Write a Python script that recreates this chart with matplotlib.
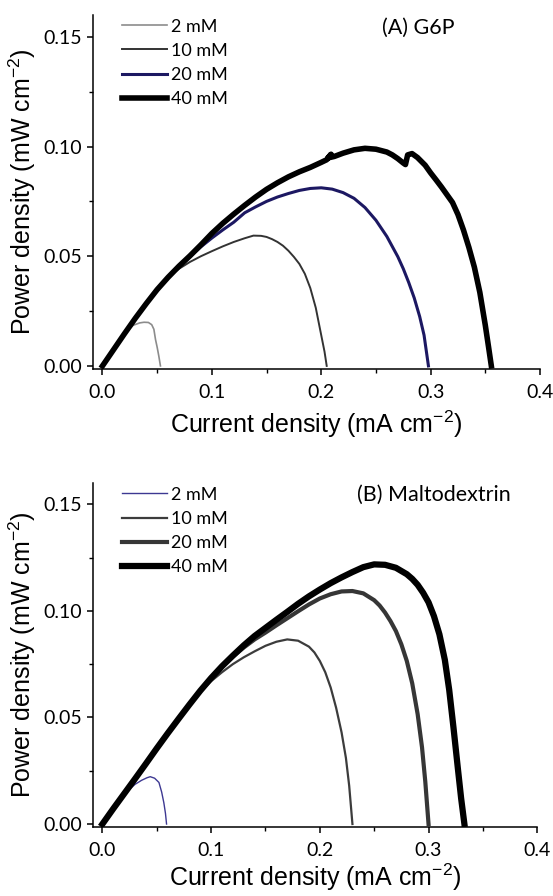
import matplotlib
matplotlib.use("Agg")
import matplotlib.pyplot as plt
from matplotlib.ticker import MultipleLocator, FormatStrFormatter

# ---- (A) G6P ----
g6p_2_x = [0, 0.01, 0.02, 0.028, 0.034, 0.038, 0.042, 0.045, 0.047, 0.0485, 0.050, 0.0515, 0.053]
g6p_2_y = [0, 0.0073, 0.0146, 0.0185, 0.0196, 0.0199, 0.0198, 0.0188, 0.0167, 0.0120, 0.0085, 0.0045, 0]

g6p_10_x = [0, 0.01, 0.02, 0.03, 0.04, 0.05, 0.06, 0.065, 0.07, 0.08, 0.09, 0.1, 0.11, 0.12,
            0.13, 0.138, 0.145, 0.15, 0.155, 0.16, 0.165, 0.17, 0.175, 0.18, 0.185, 0.19,
            0.195, 0.2, 0.203, 0.205]
g6p_10_y = [0, 0.0073, 0.0146, 0.0217, 0.0284, 0.0348, 0.0404, 0.0425, 0.0443, 0.0474, 0.0500,
            0.0523, 0.0545, 0.0565, 0.0582, 0.0594, 0.0593, 0.0588, 0.0578, 0.0565, 0.0548,
            0.0525, 0.0497, 0.0465, 0.0420, 0.0355, 0.0265, 0.0140, 0.0065, 0.0]

g6p_20_x = [0, 0.01, 0.02, 0.03, 0.04, 0.05, 0.06, 0.07, 0.08, 0.09, 0.1, 0.11, 0.12, 0.13,
            0.14, 0.15, 0.16, 0.17, 0.18, 0.19, 0.2, 0.21, 0.22, 0.23, 0.24, 0.25, 0.26, 0.27,
            0.275, 0.28, 0.285, 0.29, 0.294, 0.298]
g6p_20_y = [0, 0.0073, 0.0146, 0.0217, 0.0284, 0.0348, 0.0404, 0.0453, 0.0498, 0.0543, 0.0583,
            0.0620, 0.0655, 0.0698, 0.0725, 0.0750, 0.0770, 0.0786, 0.0800, 0.0809, 0.0812,
            0.0806, 0.0790, 0.0764, 0.0722, 0.0664, 0.0590, 0.0498, 0.0443, 0.0380, 0.0310,
            0.0225, 0.0140, 0.0]

g6p_40_x = [0, 0.01, 0.02, 0.03, 0.04, 0.05, 0.06, 0.07, 0.08, 0.09, 0.1, 0.11, 0.12, 0.13,
            0.14, 0.15, 0.16, 0.17, 0.18, 0.19, 0.2, 0.205, 0.209, 0.206, 0.212, 0.22, 0.23,
            0.24, 0.25, 0.26, 0.265, 0.27, 0.275, 0.277, 0.279, 0.283, 0.288, 0.295, 0.3,
            0.305, 0.31, 0.315, 0.32, 0.325, 0.33, 0.335, 0.34, 0.345, 0.35, 0.353, 0.3555]
g6p_40_y = [0, 0.0073, 0.0146, 0.0217, 0.0284, 0.0348, 0.0404, 0.0455, 0.0502, 0.0552, 0.0604,
            0.0650, 0.0692, 0.0732, 0.0770, 0.0805, 0.0835, 0.0862, 0.0885, 0.0905, 0.0928,
            0.0940, 0.0965, 0.0948, 0.0955, 0.0970, 0.0985, 0.0992, 0.0988, 0.0975, 0.0962,
            0.0945, 0.0925, 0.0918, 0.0962, 0.0968, 0.0950, 0.0915, 0.0880, 0.0848, 0.0815,
            0.0780, 0.0745, 0.0690, 0.0620, 0.0540, 0.0450, 0.0335, 0.0185, 0.0085, 0]

# ---- (B) Maltodextrin ----
mal_2_x = [0, 0.01, 0.022, 0.03, 0.036, 0.041, 0.044, 0.048, 0.052, 0.0545, 0.0565, 0.058, 0.059]
mal_2_y = [0, 0.0072, 0.0150, 0.0186, 0.0205, 0.0217, 0.0222, 0.0215, 0.0195, 0.0150, 0.0100, 0.0050, 0]

mal_10_x = [0, 0.01, 0.02, 0.03, 0.04, 0.05, 0.06, 0.07, 0.08, 0.09, 0.1, 0.11, 0.12, 0.13,
            0.14, 0.15, 0.16, 0.17, 0.18, 0.19, 0.195, 0.2, 0.205, 0.21, 0.215, 0.22, 0.224,
            0.227, 0.23]
mal_10_y = [0, 0.0072, 0.0142, 0.0212, 0.0283, 0.0355, 0.0425, 0.0493, 0.0560, 0.0620, 0.0670,
            0.0712, 0.0750, 0.0782, 0.0810, 0.0836, 0.0855, 0.0866, 0.0860, 0.0832, 0.0805,
            0.0765, 0.0712, 0.0640, 0.0545, 0.0430, 0.0310, 0.0180, 0]

mal_20_x = [0, 0.01, 0.02, 0.03, 0.04, 0.05, 0.06, 0.07, 0.08, 0.09, 0.1, 0.11, 0.12, 0.13,
            0.14, 0.15, 0.16, 0.17, 0.18, 0.19, 0.2, 0.21, 0.22, 0.23, 0.24, 0.25, 0.255, 0.26,
            0.265, 0.27, 0.275, 0.28, 0.285, 0.29, 0.294, 0.297, 0.3]
mal_20_y = [0, 0.0072, 0.0142, 0.0212, 0.0283, 0.0355, 0.0425, 0.0493, 0.0560, 0.0625, 0.0685,
            0.0738, 0.0785, 0.0828, 0.0866, 0.0898, 0.0932, 0.0965, 0.0998, 0.1030, 0.1058,
            0.1078, 0.1091, 0.1093, 0.1082, 0.1050, 0.1025, 0.0992, 0.0952, 0.0905, 0.0843,
            0.0765, 0.0660, 0.0515, 0.0360, 0.0200, 0]

mal_40_x = [0, 0.01, 0.02, 0.03, 0.04, 0.05, 0.06, 0.07, 0.08, 0.09, 0.1, 0.11, 0.12, 0.13,
            0.14, 0.15, 0.16, 0.17, 0.18, 0.19, 0.2, 0.21, 0.22, 0.23, 0.24, 0.25, 0.26, 0.27,
            0.28, 0.285, 0.29, 0.295, 0.3, 0.305, 0.31, 0.315, 0.319, 0.323, 0.327, 0.33, 0.333]
mal_40_y = [0, 0.0072, 0.0142, 0.0212, 0.0283, 0.0355, 0.0425, 0.0493, 0.0560, 0.0625, 0.0685,
            0.0740, 0.0790, 0.0838, 0.0882, 0.0920, 0.0958, 0.0995, 0.1033, 0.1068, 0.1100,
            0.1130, 0.1157, 0.1182, 0.1205, 0.1218, 0.1216, 0.1202, 0.1172, 0.1150, 0.1122,
            0.1085, 0.1040, 0.0975, 0.0890, 0.0770, 0.0630, 0.0450, 0.0260, 0.0120, 0]

labels = ["2 mM", "10 mM", "20 mM", "40 mM"]
NARROW = ["Lato", "DejaVu Sans"]
SANS = ["Liberation Sans", "DejaVu Sans"]


def style_axes(ax, xlabelpad):
    ax.set_xlim(-0.009, 0.4)
    ax.set_ylim(-0.0014, 0.16)
    ax.spines["top"].set_visible(False)
    ax.spines["right"].set_visible(False)
    for s in ("left", "bottom"):
        ax.spines[s].set_linewidth(1.1)
    ax.xaxis.set_major_locator(MultipleLocator(0.1))
    ax.xaxis.set_minor_locator(MultipleLocator(0.05))
    ax.yaxis.set_major_locator(MultipleLocator(0.05))
    ax.yaxis.set_minor_locator(MultipleLocator(0.025))
    ax.xaxis.set_major_formatter(FormatStrFormatter("%.1f"))
    ax.yaxis.set_major_formatter(FormatStrFormatter("%.2f"))
    ax.tick_params(which="major", direction="out", length=4.5, width=1.1, labelsize=14, pad=3)
    ax.tick_params(axis="x", which="major", pad=6)
    ax.tick_params(which="minor", direction="out", length=3, width=1.0)
    for lab in ax.get_xticklabels() + ax.get_yticklabels():
        lab.set_family(NARROW)
    ax.set_xlabel("Current density (mA cm$^{-2}$)", family=SANS, fontsize=18, labelpad=xlabelpad)
    ax.set_ylabel("Power density (mW cm$^{-2}$)", family=SANS, fontsize=18, labelpad=4)


plt.rcParams["mathtext.fontset"] = "custom"
plt.rcParams["mathtext.rm"] = "Liberation Sans"
plt.rcParams["mathtext.it"] = "Liberation Sans"

fig = plt.figure(figsize=(5.53, 8.96), dpi=100)

ax1 = fig.add_axes([0.1675, 0.5882, 0.809, 0.3951])
ax1.plot(g6p_2_x, g6p_2_y, color="#8c8c8c", lw=1.2, label=labels[0])
ax1.plot(g6p_10_x, g6p_10_y, color="#333333", lw=1.4, label=labels[1])
ax1.plot(g6p_20_x, g6p_20_y, color="#1c1862", lw=2.2, label=labels[2])
ax1.plot(g6p_40_x, g6p_40_y, color="#000000", lw=4.0, label=labels[3])
style_axes(ax1, 6)
ax1.text(0.728, 0.963, "(A) G6P", transform=ax1.transAxes, ha="center", va="center",
         family=NARROW, fontsize=15.5)
ax1.legend(loc="upper left", bbox_to_anchor=(0.05, 1.01), frameon=False,
           prop={"family": NARROW, "size": 13}, handlelength=2.5, handletextpad=0.2,
           labelspacing=0.45, borderaxespad=0)

ax2 = fig.add_axes([0.1675, 0.077, 0.804, 0.384])
ax2.plot(mal_2_x, mal_2_y, color="#3d3892", lw=1.0, label=labels[0])
ax2.plot(mal_10_x, mal_10_y, color="#3c3c3c", lw=1.6, label=labels[1])
ax2.plot(mal_20_x, mal_20_y, color="#363636", lw=3.0, label=labels[2])
ax2.plot(mal_40_x, mal_40_y, color="#000000", lw=4.5, label=labels[3])
style_axes(ax2, 2)
ax2.text(0.768, 0.965, "(B) Maltodextrin", transform=ax2.transAxes, ha="center", va="center",
         family=NARROW, fontsize=15.5)
ax2.legend(loc="upper left", bbox_to_anchor=(0.05, 1.01), frameon=False,
           prop={"family": NARROW, "size": 13}, handlelength=2.5, handletextpad=0.2,
           labelspacing=0.45, borderaxespad=0)

fig.savefig("out.png", dpi=100)
